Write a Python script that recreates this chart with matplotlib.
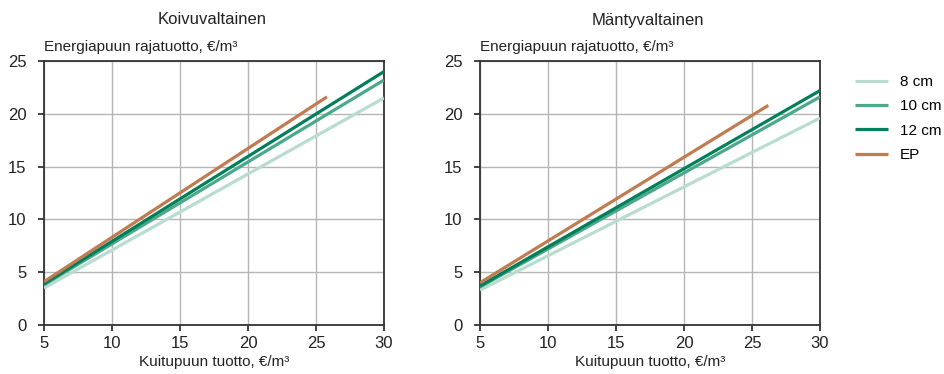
import matplotlib
matplotlib.use("Agg")
import matplotlib.pyplot as plt

plt.rcParams['font.family'] = ['Liberation Sans', 'DejaVu Sans']

# Kuitupuun tuotto (x) ja energiapuun rajatuotto (y)
series_names = ["8 cm", "10 cm", "12 cm", "EP"]
colors = ["#b8dccf", "#4ba88b", "#007f5a", "#c07b50"]

koivu_x = {"8 cm": [5, 30], "10 cm": [5, 30], "12 cm": [5, 30], "EP": [5, 25.8]}
koivu_y = {"8 cm": [3.5, 21.5], "10 cm": [3.8, 23.2], "12 cm": [3.9, 24.0], "EP": [4.1, 21.6]}

manty_x = {"8 cm": [5, 30], "10 cm": [5, 30], "12 cm": [5, 30], "EP": [5, 26.2]}
manty_y = {"8 cm": [3.3, 19.6], "10 cm": [3.6, 21.6], "12 cm": [3.7, 22.2], "EP": [4.0, 20.8]}

titles = ["Koivuvaltainen", "Mäntyvaltainen"]
y_label = "Energiapuun rajatuotto, €/m³"
x_label = "Kuitupuun tuotto, €/m³"
x_ticks = [5, 10, 15, 20, 25, 30]
y_ticks = [0, 5, 10, 15, 20, 25]

W, H = 944, 374
fig = plt.figure(figsize=(W / 100, H / 100), dpi=100)
ax_w, ax_h = 340 / W, 264 / H
ax_b = 1 - 325 / H
ax1 = fig.add_axes([44 / W, ax_b, ax_w, ax_h])
ax2 = fig.add_axes([480 / W, ax_b, ax_w, ax_h])

txt = "#222222"
for ax, title, xs, ys in [(ax1, titles[0], koivu_x, koivu_y), (ax2, titles[1], manty_x, manty_y)]:
    for name, c in zip(series_names, colors):
        ax.plot(xs[name], ys[name], color=c, lw=2.3, label=name,
                solid_capstyle='butt', zorder=3)
    ax.set_xlim(5, 30)
    ax.set_ylim(0, 25)
    ax.set_xticks(x_ticks)
    ax.set_yticks(y_ticks)
    ax.grid(True, color="#b5b5b5", lw=1.0)
    ax.set_axisbelow(True)
    for s in ax.spines.values():
        s.set_color("#333333")
        s.set_linewidth(1.3)
    ax.tick_params(direction='out', length=4.5, width=1.3, color="#333333",
                   labelsize=12, labelcolor=txt)
    ax.tick_params(axis='x', pad=3.5)
    ax.tick_params(axis='y', pad=8)

    pos = ax.get_position()
    cx = pos.x0 + pos.width / 2
    fig.text(cx - 2 / W, 1 - 20 / H, title, fontsize=12, color=txt, ha='center', va='center')
    fig.text(pos.x0, 1 - 51 / H, y_label, fontsize=11, color=txt, ha='left', va='baseline')
    fig.text(cx, 1 - 362 / H, x_label, fontsize=11, color=txt, ha='center', va='center')

ax2.legend(loc='upper left', bbox_to_anchor=(855 / W, 1 - 75 / H),
           bbox_transform=fig.transFigure, frameon=False, borderpad=0, borderaxespad=0,
           fontsize=11, handlelength=2.15, handletextpad=0.8, labelspacing=0.68)

fig.savefig("out.png", dpi=100)
